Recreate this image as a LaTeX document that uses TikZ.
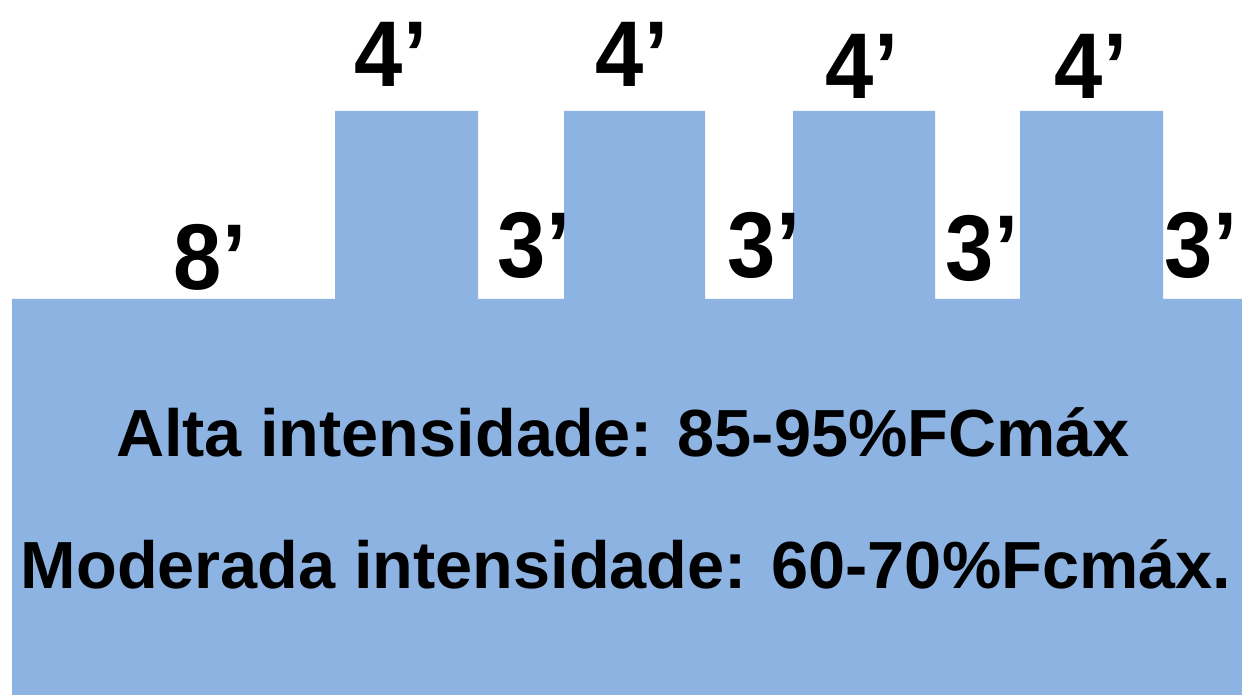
\documentclass[tikz,border=0pt]{standalone}
\usepackage{fontspec}
\setmainfont{Liberation Sans}
\definecolor{barblue}{RGB}{141,179,226}
\newcommand{\narrowtxt}[1]{\scalebox{0.93}[1]{#1}}
\tikzset{
  mins/.style={inner sep=0pt, anchor=base, font=\fontsize{70}{70}\selectfont\bfseries},
  zone/.style={inner sep=0pt, anchor=base, font=\fontsize{50}{50}\selectfont\bfseries}
}
\begin{document}
\begin{tikzpicture}[x={(0.75pt,0)}, y={(0,-0.75pt)}]
      \useasboundingbox (0,0) rectangle (1242,695);
      % warm-up base and the four hard bouts
      \fill[barblue] (12,695) -- (12,299) -- (335,299) -- (335,111) -- (478,111) -- (478,299)
            -- (564,299) -- (564,111) -- (705,111) -- (705,299)
            -- (793,299) -- (793,111) -- (935,111) -- (935,299)
            -- (1020,299) -- (1020,111) -- (1163,111) -- (1163,299)
            -- (1242,299) -- (1242,695) -- cycle;
      \node[mins] (warm) at (210,290) {\narrowtxt{8’}};
      \node[mins] (hiA) at (391,87) {\narrowtxt{4’}};
      \node[mins] (hiB) at (632,87) {\narrowtxt{4’}};
      \node[mins] (hiC) at (862,99) {\narrowtxt{4’}};
      \node[mins] (hiD) at (1091,99) {\narrowtxt{4’}};
      \node[mins] (loA) at (534,278) {\narrowtxt{3’}};
      \node[mins] (loB) at (764,278) {\narrowtxt{3’}};
      \node[mins] (loC) at (982,281) {\narrowtxt{3’}};
      \node[mins] (loD) at (1201,278) {\narrowtxt{3’}};
      \node[zone] (alta) at (623,456) {Alta intensidade: 85-95\%FCmáx};
      \node[zone] (moderada) at (626,588) {Moderada intensidade: 60-70\%Fcmáx.};
\end{tikzpicture}
\end{document}
